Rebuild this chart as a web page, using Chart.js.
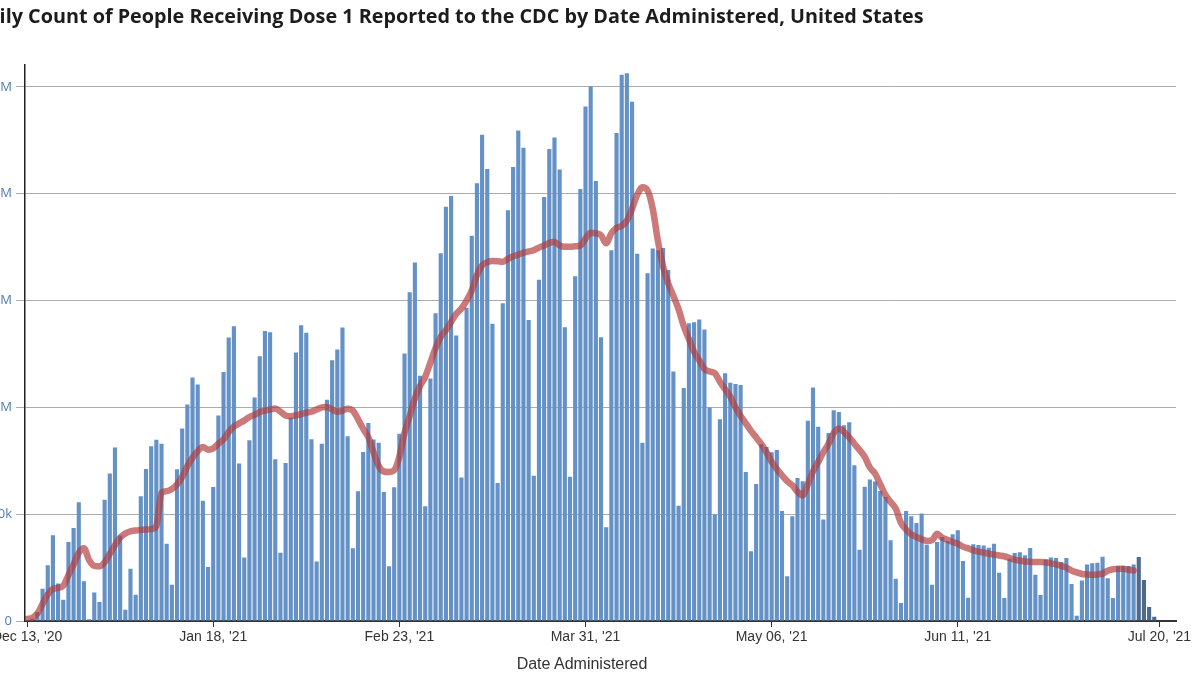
<!doctype html>
<html lang="en">
<head>
<meta charset="utf-8" />
<title>Daily Count of People Receiving Dose 1</title>
<script src="https://cdn.jsdelivr.net/npm/chart.js@4"></script>
<style>
  html, body { margin: 0; padding: 0; background: #fff; overflow: hidden; }
  body { width: 1200px; height: 675px; position: relative; }
  #wrap { position: absolute; left: -27px; top: 0; width: 1227px; height: 675px; }
  #xtitle { position: absolute; left: 482px; width: 200px; top: 655px; text-align: center;
            font: 16px "Liberation Sans", Arial, sans-serif; color: #333; }
</style>
</head>
<body>
<div id="wrap"><canvas id="chart" width="1227" height="675"></canvas></div>
<div id="xtitle">Date Administered</div>
<script>
// day 0 = Dec 13, '20 ; values in thousands of people
const tickDays = [0, 36, 72, 108, 144, 180, 219];
const tickLabels = ["Dec 13, '20", "Jan 18, '21", "Feb 23, '21", "Mar 31, '21", "May 06, '21", "Jun 11, '21", "Jul 20, '21"];
const yTickValues = [0, 500, 1000, 1500, 2000, 2500];
const yTickLabels = ["0", "500k", "1M", "1.5M", "2M", "2.5M"];

// daily dose-1 counts (k), Dec 13 '20 .. Jul 19 '21
const dailyDose1 = [
  5, 10, 42, 151, 261, 401, 175, 100, 370, 435,
  556, 186, 8, 133, 89, 568, 690, 812, 400, 53,
  245, 123, 584, 712, 818, 848, 830, 362, 170, 710,
  901, 1013, 1140, 1107, 563, 253, 627, 962, 1166, 1327,
  1380, 737, 297, 846, 1046, 1239, 1358, 1352, 757, 320,
  740, 952, 1257, 1385, 1349, 851, 279, 830, 1036, 1221,
  1271, 1374, 865, 340, 607, 791, 927, 850, 834, 604,
  256, 626, 877, 1252, 1539, 1678, 1148, 537, 1135, 1441,
  1722, 1939, 1990, 1337, 672, 1466, 1803, 2049, 2276, 2116,
  1391, 646, 1488, 1923, 2125, 2296, 2215, 1409, 680, 1598,
  1985, 2210, 2263, 2114, 1375, 675, 1614, 2022, 2409, 2503,
  2060, 1328, 439, 1736, 2284, 2557, 2564, 2431, 1719, 835,
  1628, 1744, 1736, 1746, 1643, 1168, 540, 1091, 1394, 1399,
  1412, 1365, 1000, 498, 944, 1160, 1115, 1109, 1105, 697,
  327, 641, 827, 815, 790, 801, 515, 209, 490, 670,
  654, 937, 1093, 909, 475, 880, 987, 979, 916, 930,
  729, 334, 628, 662, 653, 609, 581, 378, 198, 84,
  515, 490, 459, 503, 357, 170, 370, 393, 375, 406,
  425, 281, 109, 359, 356, 353, 343, 362, 226, 108,
  292, 318, 322, 308, 342, 217, 122, 287, 297, 295,
  276, 295, 173, 25, 190, 264, 270, 273, 301, 200,
  108, 256, 259, 258, 265, 300, 192, 66, 20
];

// 7-day average (k), Dec 13 '20 .. Jul 14 '21
const sevenDayAvg = [
  10, 15, 35, 80, 125, 150, 155, 165, 215, 265,
  320, 340, 285, 258, 256, 275, 315, 355, 390, 410,
  420, 424, 426, 428, 430, 445, 600, 608, 618, 640,
  675, 725, 765, 795, 815, 802, 808, 830, 850, 885,
  910, 925, 938, 955, 965, 978, 985, 990, 995, 980,
  962, 958, 963, 968, 975, 980, 990, 1000, 1002, 990,
  980, 985, 994, 985, 945, 900, 860, 790, 725, 700,
  698, 706, 770, 880, 960, 1042, 1100, 1143, 1210, 1278,
  1330, 1362, 1400, 1438, 1463, 1500, 1547, 1620, 1665, 1680,
  1685, 1684, 1682, 1695, 1707, 1715, 1724, 1730, 1736, 1748,
  1758, 1770, 1774, 1758, 1752, 1752, 1754, 1758, 1790, 1818,
  1815, 1806, 1768, 1815, 1840, 1850, 1875, 1930, 1995, 2030,
  2015, 1930, 1780, 1660, 1580, 1522, 1460, 1380, 1320, 1260,
  1220, 1180, 1168, 1160, 1120, 1085, 1050, 1000, 960, 925,
  890, 860, 828, 790, 745, 712, 682, 655, 635, 605,
  588, 640, 700, 745, 790, 830, 880, 900, 885, 860,
  830, 800, 768, 718, 690, 640, 590, 557, 526, 460,
  428, 405, 393, 383, 375, 378, 408, 390, 380, 370,
  362, 348, 340, 331, 325, 320, 315, 311, 307, 303,
  295, 287, 282, 279, 277, 276, 276, 275, 270, 265,
  258, 250, 236, 228, 220, 218, 217, 218, 222, 235,
  242, 245, 244, 240, 237
];

// last days are still being reported (drawn darker)
const provisionalFrom = 215;

const barColor = "#6491c6";
const provisionalColor = "#4e6b8e";

new Chart(document.getElementById("chart"), {
  type: "bar",
  data: {
    datasets: [
      {
        type: "line",
        order: 0,
        data: sevenDayAvg.map((v, i) => ({ x: i, y: v })),
        borderColor: "rgba(178, 58, 58, 0.68)",
        borderWidth: 6.5,
        borderCapStyle: "round",
        borderJoinStyle: "round",
        pointRadius: 0,
        tension: 0.4,
        cubicInterpolationMode: "monotone",
      },
      {
        type: "bar",
        order: 1,
        data: dailyDose1.map((v, i) => ({ x: i, y: v })),
        backgroundColor: dailyDose1.map((v, i) => (i >= provisionalFrom ? provisionalColor : barColor)),
        borderWidth: 0,
        barPercentage: 0.8,
        categoryPercentage: 1,
      },
    ],
  },
  options: {
    responsive: false,
    animation: false,
    layout: { padding: { left: 0, right: 24, top: 0, bottom: 0 } },
    plugins: {
      legend: { display: false },
      tooltip: { enabled: false },
      title: {
        display: true,
        text: "Daily Count of People Receiving Dose 1 Reported to the CDC by Date Administered, United States",
        align: "start",
        color: "#1c1c1c",
        font: { family: "'Open Sans', sans-serif", size: 19.8, weight: "bold" },
        padding: { top: 5, bottom: 36 },
      },
    },
    scales: {
      x: {
        type: "linear",
        offset: false,
        min: -0.4,
        max: 222.2,
        afterBuildTicks: (s) => { s.ticks = tickDays.map((v) => ({ value: v })); },
        afterFit: (s) => { s.height = 54; },
        ticks: {
          callback: (v) => tickLabels[tickDays.indexOf(v)] ?? "",
          color: "#333",
          font: { family: "'Liberation Sans', Arial, sans-serif", size: 14 },
          padding: 2,
          maxRotation: 0,
          autoSkip: false,
        },
        grid: { offset: false, drawOnChartArea: false, drawTicks: true, tickLength: 6, color: "#333", lineWidth: 1 },
        border: { color: "#333", width: 2 },
      },
      y: {
        min: 0,
        max: 2604,
        afterBuildTicks: (s) => { s.ticks = yTickValues.map((v) => ({ value: v })); },
        afterFit: (s) => { s.width = 52; },
        ticks: {
          callback: (v) => yTickLabels[yTickValues.indexOf(v)] ?? "",
          color: "#4f7cb3",
          font: { family: "'Open Sans', sans-serif", size: 13 },
          padding: 4,
        },
        grid: { color: "rgba(0,0,0,0.33)", lineWidth: 1, tickLength: 9, drawTicks: true },
        border: { color: "#222", width: 1.5 },
      },
    },
  },
});
</script>
</body>
</html>
